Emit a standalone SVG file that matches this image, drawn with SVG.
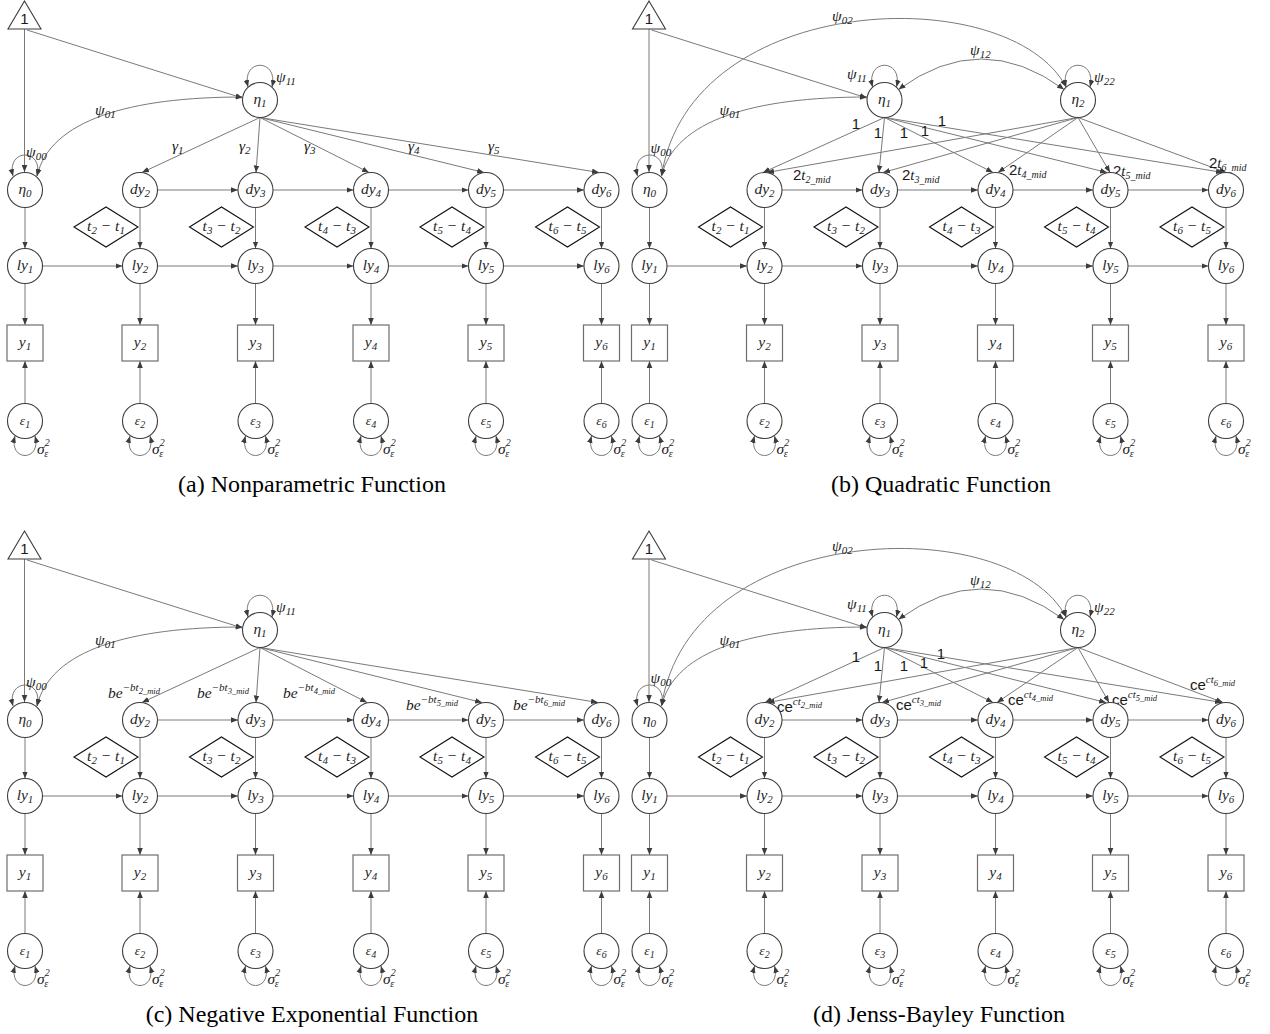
<svg xmlns="http://www.w3.org/2000/svg" width="1270" height="1034" viewBox="0 0 1270 1034">
<defs>
<marker id="ah" viewBox="0 0 10 10" refX="10" refY="5" markerWidth="7" markerHeight="7" orient="auto-start-reverse" markerUnits="userSpaceOnUse"><path d="M0,1 L10,5 L0,9 z" fill="#3c3c3c"/></marker>
</defs>
<style>
.ln{fill:none;stroke:#7a7a7a;stroke-width:1}
.a{marker-end:url(#ah)}
.b2{marker-start:url(#ah);marker-end:url(#ah)}
.nd{fill:#fff;stroke:#3c3c3c;stroke-width:1.1}
.bx{fill:#fff;stroke:#6e6e6e;stroke-width:1.2}
.dm{fill:#fff;stroke:#111;stroke-width:1.1}
.tr{fill:#fff;stroke:#3c3c3c;stroke-width:1.1}
.m{font-family:"Liberation Serif","DejaVu Serif",serif;font-style:italic;font-size:15.5px;fill:#262626;text-anchor:middle}
.ml{font-family:"Liberation Serif","DejaVu Serif",serif;font-style:italic;font-size:15.5px;fill:#1a1a1a;text-anchor:start}
.sb{font-size:11px}
.e{font-size:13.5px}
.x{font-size:10px}
.sp{font-size:11px}
.ss{font-size:8.5px}
.s{font-family:"Liberation Sans",Arial,sans-serif;font-size:15px;fill:#1a1a1a}
.it{font-family:"Liberation Serif","DejaVu Serif",serif;font-style:italic}
.cap{font-family:"Liberation Serif","Times New Roman",serif;font-size:24px;fill:#000;text-anchor:middle}
</style>
<rect width="1270" height="1034" fill="#fff"/>

<!-- ================= PANEL A ================= -->
<g id="panel-a">
<g id="a-connectors" class="ln">
<path class="a" d="M24.5,29V172"/>
<path class="a" d="M27,30L242.5,98"/>
<path class="a" d="M25,207.5V248.5"/>
<path class="b2" d="M13,176C6,148 44,148 37,176"/>
<path class="b2" d="M37,176C50,120 130,97 242.5,97"/>
<path class="b2" d="M248,87C241,58 279,58 272,87"/>
<path class="a" d="M260,117.5L142,172.5"/>
<path class="a" d="M260,117.5L256,172.5"/>
<path class="a" d="M260,117.5L369,172.5"/>
<path class="a" d="M260,117.5L484,172.5"/>
<path class="a" d="M260,117.5L599,172.5"/>
<path class="a" d="M157.5,190H238"/>
<path class="a" d="M273,190H353.5"/>
<path class="a" d="M388.5,190H468.5"/>
<path class="a" d="M503.5,190H584"/>
<path class="a" d="M42.5,266H122.5"/>
<path class="a" d="M157.5,266H238"/>
<path class="a" d="M273,266H353.5"/>
<path class="a" d="M388.5,266H468.5"/>
<path class="a" d="M503.5,266H584"/>
<path class="a" d="M140,207.5V248.5"/>
<path class="a" d="M255.5,207.5V248.5"/>
<path class="a" d="M371,207.5V248.5"/>
<path class="a" d="M486,207.5V248.5"/>
<path class="a" d="M601.5,207.5V248.5"/>
<path class="a" d="M25,283.5V325"/>
<path class="a" d="M140,283.5V325"/>
<path class="a" d="M255.5,283.5V325"/>
<path class="a" d="M371,283.5V325"/>
<path class="a" d="M486,283.5V325"/>
<path class="a" d="M601.5,283.5V325"/>
<path class="a" d="M25,403.5V361"/>
<path class="a" d="M140,403.5V361"/>
<path class="a" d="M255.5,403.5V361"/>
<path class="a" d="M371,403.5V361"/>
<path class="a" d="M486,403.5V361"/>
<path class="a" d="M601.5,403.5V361"/>
<path class="b2" d="M15,436C8,462 42,462 35,436"/>
<path class="b2" d="M130,436C123,462 157,462 150,436"/>
<path class="b2" d="M245.5,436C238.5,462 272.5,462 265.5,436"/>
<path class="b2" d="M361,436C354,462 388,462 381,436"/>
<path class="b2" d="M476,436C469,462 503,462 496,436"/>
<path class="b2" d="M591.5,436C584.5,462 618.5,462 611.5,436"/>
</g>
<g id="a-labels">
<text class="ml" x="26" y="157">ψ<tspan class="sb" dy="3">00</tspan></text>
<text class="ml" x="95" y="115">ψ<tspan class="sb" dy="3">01</tspan></text>
<text class="ml" x="276" y="82">ψ<tspan class="sb" dy="3">11</tspan></text>
<text class="ml" x="172" y="151">γ<tspan class="sb" dy="3">1</tspan></text>
<text class="ml" x="239" y="151">γ<tspan class="sb" dy="3">2</tspan></text>
<text class="ml" x="304" y="151">γ<tspan class="sb" dy="3">3</tspan></text>
<text class="ml" x="408" y="151">γ<tspan class="sb" dy="3">4</tspan></text>
<text class="ml" x="488" y="151">γ<tspan class="sb" dy="3">5</tspan></text>
<text class="ml" x="37" y="454">σ<tspan class="x" dy="-8">2</tspan><tspan class="x" dx="-5.5" dy="11">ε</tspan></text>
<text class="ml" x="152" y="454">σ<tspan class="x" dy="-8">2</tspan><tspan class="x" dx="-5.5" dy="11">ε</tspan></text>
<text class="ml" x="267.5" y="454">σ<tspan class="x" dy="-8">2</tspan><tspan class="x" dx="-5.5" dy="11">ε</tspan></text>
<text class="ml" x="383" y="454">σ<tspan class="x" dy="-8">2</tspan><tspan class="x" dx="-5.5" dy="11">ε</tspan></text>
<text class="ml" x="498" y="454">σ<tspan class="x" dy="-8">2</tspan><tspan class="x" dx="-5.5" dy="11">ε</tspan></text>
<text class="ml" x="613.5" y="454">σ<tspan class="x" dy="-8">2</tspan><tspan class="x" dx="-5.5" dy="11">ε</tspan></text>
</g>
<g id="a-one"><polygon class="tr" points="24.5,1 41,29 8,29"/><text class="s" x="24.5" y="24" text-anchor="middle" font-size="13">1</text></g>
<g id="a-eta0"><circle class="nd" cx="25" cy="190" r="17.5"/><text class="m" x="25" y="194">η<tspan class="sb" dy="3">0</tspan></text></g>
<g id="a-eta1"><circle class="nd" cx="260" cy="100" r="17.5"/><text class="m" x="260" y="104">η<tspan class="sb" dy="3">1</tspan></text></g>
<g id="a-dy2"><circle class="nd" cx="140" cy="190" r="17.5"/><text class="m" x="140" y="194">dy<tspan class="sb" dy="3">2</tspan></text></g>
<g id="a-dy3"><circle class="nd" cx="255.5" cy="190" r="17.5"/><text class="m" x="255.5" y="194">dy<tspan class="sb" dy="3">3</tspan></text></g>
<g id="a-dy4"><circle class="nd" cx="371" cy="190" r="17.5"/><text class="m" x="371" y="194">dy<tspan class="sb" dy="3">4</tspan></text></g>
<g id="a-dy5"><circle class="nd" cx="486" cy="190" r="17.5"/><text class="m" x="486" y="194">dy<tspan class="sb" dy="3">5</tspan></text></g>
<g id="a-dy6"><circle class="nd" cx="601.5" cy="190" r="17.5"/><text class="m" x="601.5" y="194">dy<tspan class="sb" dy="3">6</tspan></text></g>
<g id="a-dt2"><polygon class="dm" points="74,227 106,207 138,227 106,247"/><text class="m" x="106" y="231">t<tspan class="sb" dy="3">2</tspan><tspan dy="-3"> − t</tspan><tspan class="sb" dy="3">1</tspan></text></g>
<g id="a-dt3"><polygon class="dm" points="189.5,227 221.5,207 253.5,227 221.5,247"/><text class="m" x="221.5" y="231">t<tspan class="sb" dy="3">3</tspan><tspan dy="-3"> − t</tspan><tspan class="sb" dy="3">2</tspan></text></g>
<g id="a-dt4"><polygon class="dm" points="305,227 337,207 369,227 337,247"/><text class="m" x="337" y="231">t<tspan class="sb" dy="3">4</tspan><tspan dy="-3"> − t</tspan><tspan class="sb" dy="3">3</tspan></text></g>
<g id="a-dt5"><polygon class="dm" points="420,227 452,207 484,227 452,247"/><text class="m" x="452" y="231">t<tspan class="sb" dy="3">5</tspan><tspan dy="-3"> − t</tspan><tspan class="sb" dy="3">4</tspan></text></g>
<g id="a-dt6"><polygon class="dm" points="535.5,227 567.5,207 599.5,227 567.5,247"/><text class="m" x="567.5" y="231">t<tspan class="sb" dy="3">6</tspan><tspan dy="-3"> − t</tspan><tspan class="sb" dy="3">5</tspan></text></g>
<g id="a-ly1"><circle class="nd" cx="25" cy="266" r="17.5"/><text class="m" x="25" y="270">ly<tspan class="sb" dy="3">1</tspan></text></g>
<g id="a-ly2"><circle class="nd" cx="140" cy="266" r="17.5"/><text class="m" x="140" y="270">ly<tspan class="sb" dy="3">2</tspan></text></g>
<g id="a-ly3"><circle class="nd" cx="255.5" cy="266" r="17.5"/><text class="m" x="255.5" y="270">ly<tspan class="sb" dy="3">3</tspan></text></g>
<g id="a-ly4"><circle class="nd" cx="371" cy="266" r="17.5"/><text class="m" x="371" y="270">ly<tspan class="sb" dy="3">4</tspan></text></g>
<g id="a-ly5"><circle class="nd" cx="486" cy="266" r="17.5"/><text class="m" x="486" y="270">ly<tspan class="sb" dy="3">5</tspan></text></g>
<g id="a-ly6"><circle class="nd" cx="601.5" cy="266" r="17.5"/><text class="m" x="601.5" y="270">ly<tspan class="sb" dy="3">6</tspan></text></g>
<g id="a-y1"><rect class="bx" x="7" y="325" width="36" height="36"/><text class="m" x="25" y="347">y<tspan class="sb" dy="3">1</tspan></text></g>
<g id="a-y2"><rect class="bx" x="122" y="325" width="36" height="36"/><text class="m" x="140" y="347">y<tspan class="sb" dy="3">2</tspan></text></g>
<g id="a-y3"><rect class="bx" x="237.5" y="325" width="36" height="36"/><text class="m" x="255.5" y="347">y<tspan class="sb" dy="3">3</tspan></text></g>
<g id="a-y4"><rect class="bx" x="353" y="325" width="36" height="36"/><text class="m" x="371" y="347">y<tspan class="sb" dy="3">4</tspan></text></g>
<g id="a-y5"><rect class="bx" x="468" y="325" width="36" height="36"/><text class="m" x="486" y="347">y<tspan class="sb" dy="3">5</tspan></text></g>
<g id="a-y6"><rect class="bx" x="583.5" y="325" width="36" height="36"/><text class="m" x="601.5" y="347">y<tspan class="sb" dy="3">6</tspan></text></g>
<g id="a-e1"><circle class="nd" cx="25" cy="421" r="17.5"/><text class="m e" x="25" y="425">ε<tspan class="x" dy="3">1</tspan></text></g>
<g id="a-e2"><circle class="nd" cx="140" cy="421" r="17.5"/><text class="m e" x="140" y="425">ε<tspan class="x" dy="3">2</tspan></text></g>
<g id="a-e3"><circle class="nd" cx="255.5" cy="421" r="17.5"/><text class="m e" x="255.5" y="425">ε<tspan class="x" dy="3">3</tspan></text></g>
<g id="a-e4"><circle class="nd" cx="371" cy="421" r="17.5"/><text class="m e" x="371" y="425">ε<tspan class="x" dy="3">4</tspan></text></g>
<g id="a-e5"><circle class="nd" cx="486" cy="421" r="17.5"/><text class="m e" x="486" y="425">ε<tspan class="x" dy="3">5</tspan></text></g>
<g id="a-e6"><circle class="nd" cx="601.5" cy="421" r="17.5"/><text class="m e" x="601.5" y="425">ε<tspan class="x" dy="3">6</tspan></text></g>
</g>

<!-- ================= PANEL B ================= -->
<g id="panel-b" transform="translate(624.5,0)">
<g id="b-connectors" class="ln">
<path class="a" d="M24.5,29V172"/>
<path class="a" d="M27,30L242.5,98"/>
<path class="a" d="M25,207.5V248.5"/>
<path class="b2" d="M13,176C6,148 44,148 37,176"/>
<path class="b2" d="M37,176C50,120 130,97 242.5,97"/>
<path class="b2" d="M37,176C65.5,-10 385.5,-20 441.5,87"/>
<path class="b2" d="M274,89.5Q357,28.5 439.5,89.5"/>
<path class="b2" d="M248,87C241,58 279,58 272,87"/>
<path class="b2" d="M441.5,87C434.5,58 472.5,58 465.5,87"/>
<path class="a" d="M260,117.5L138.5,172.5"/>
<path class="a" d="M260,117.5L254.5,172.5"/>
<path class="a" d="M260,117.5L368.5,172.5"/>
<path class="a" d="M260,117.5L482.5,172.5"/>
<path class="a" d="M260,117.5L598.5,172.5"/>
<path class="a" d="M453.5,117.5L142.5,172.5"/>
<path class="a" d="M453.5,117.5L258.5,172.5"/>
<path class="a" d="M453.5,117.5L373.5,172.5"/>
<path class="a" d="M453.5,117.5L485.5,172.5"/>
<path class="a" d="M453.5,117.5L601.5,172.5"/>
<path class="a" d="M157.5,190H238"/>
<path class="a" d="M273,190H353.5"/>
<path class="a" d="M388.5,190H468.5"/>
<path class="a" d="M503.5,190H584"/>
<path class="a" d="M42.5,266H122.5"/>
<path class="a" d="M157.5,266H238"/>
<path class="a" d="M273,266H353.5"/>
<path class="a" d="M388.5,266H468.5"/>
<path class="a" d="M503.5,266H584"/>
<path class="a" d="M140,207.5V248.5"/>
<path class="a" d="M255.5,207.5V248.5"/>
<path class="a" d="M371,207.5V248.5"/>
<path class="a" d="M486,207.5V248.5"/>
<path class="a" d="M601.5,207.5V248.5"/>
<path class="a" d="M25,283.5V325"/>
<path class="a" d="M140,283.5V325"/>
<path class="a" d="M255.5,283.5V325"/>
<path class="a" d="M371,283.5V325"/>
<path class="a" d="M486,283.5V325"/>
<path class="a" d="M601.5,283.5V325"/>
<path class="a" d="M25,403.5V361"/>
<path class="a" d="M140,403.5V361"/>
<path class="a" d="M255.5,403.5V361"/>
<path class="a" d="M371,403.5V361"/>
<path class="a" d="M486,403.5V361"/>
<path class="a" d="M601.5,403.5V361"/>
<path class="b2" d="M15,436C8,462 42,462 35,436"/>
<path class="b2" d="M130,436C123,462 157,462 150,436"/>
<path class="b2" d="M245.5,436C238.5,462 272.5,462 265.5,436"/>
<path class="b2" d="M361,436C354,462 388,462 381,436"/>
<path class="b2" d="M476,436C469,462 503,462 496,436"/>
<path class="b2" d="M591.5,436C584.5,462 618.5,462 611.5,436"/>
</g>
<g id="b-labels">
<text class="ml" x="26" y="153">ψ<tspan class="sb" dy="3">00</tspan></text>
<text class="ml" x="95" y="115">ψ<tspan class="sb" dy="3">01</tspan></text>
<text class="ml" x="207.5" y="21">ψ<tspan class="sb" dy="3">02</tspan></text>
<text class="ml" x="222.5" y="79">ψ<tspan class="sb" dy="3">11</tspan></text>
<text class="ml" x="345.5" y="55">ψ<tspan class="sb" dy="3">12</tspan></text>
<text class="ml" x="469.5" y="82">ψ<tspan class="sb" dy="3">22</tspan></text>
<text class="s" x="231.5" y="129" text-anchor="middle">1</text>
<text class="s" x="253.5" y="138" text-anchor="middle">1</text>
<text class="s" x="279.5" y="138" text-anchor="middle">1</text>
<text class="s" x="300.5" y="136" text-anchor="middle">1</text>
<text class="s" x="317.5" y="126" text-anchor="middle">1</text>
<text class="s" x="168.5" y="180">2<tspan class="it">t</tspan><tspan class="it" font-size="10" dy="3">2_mid</tspan></text>
<text class="s" x="277.5" y="180">2<tspan class="it">t</tspan><tspan class="it" font-size="10" dy="3">3_mid</tspan></text>
<text class="s" x="384.5" y="175">2<tspan class="it">t</tspan><tspan class="it" font-size="10" dy="3">4_mid</tspan></text>
<text class="s" x="488.5" y="176">2<tspan class="it">t</tspan><tspan class="it" font-size="10" dy="3">5_mid</tspan></text>
<text class="s" x="584.5" y="168">2<tspan class="it">t</tspan><tspan class="it" font-size="10" dy="3">6_mid</tspan></text>
<text class="ml" x="37" y="454">σ<tspan class="x" dy="-8">2</tspan><tspan class="x" dx="-5.5" dy="11">ε</tspan></text>
<text class="ml" x="152" y="454">σ<tspan class="x" dy="-8">2</tspan><tspan class="x" dx="-5.5" dy="11">ε</tspan></text>
<text class="ml" x="267.5" y="454">σ<tspan class="x" dy="-8">2</tspan><tspan class="x" dx="-5.5" dy="11">ε</tspan></text>
<text class="ml" x="383" y="454">σ<tspan class="x" dy="-8">2</tspan><tspan class="x" dx="-5.5" dy="11">ε</tspan></text>
<text class="ml" x="498" y="454">σ<tspan class="x" dy="-8">2</tspan><tspan class="x" dx="-5.5" dy="11">ε</tspan></text>
<text class="ml" x="613.5" y="454">σ<tspan class="x" dy="-8">2</tspan><tspan class="x" dx="-5.5" dy="11">ε</tspan></text>
</g>
<g id="b-one"><polygon class="tr" points="24.5,1 41,29 8,29"/><text class="s" x="24.5" y="24" text-anchor="middle" font-size="13">1</text></g>
<g id="b-eta0"><circle class="nd" cx="25" cy="190" r="17.5"/><text class="m" x="25" y="194">η<tspan class="sb" dy="3">0</tspan></text></g>
<g id="b-eta1"><circle class="nd" cx="260" cy="100" r="17.5"/><text class="m" x="260" y="104">η<tspan class="sb" dy="3">1</tspan></text></g>
<g id="b-eta2"><circle class="nd" cx="453.5" cy="100" r="17.5"/><text class="m" x="453.5" y="104">η<tspan class="sb" dy="3">2</tspan></text></g>
<g id="b-dy2"><circle class="nd" cx="140" cy="190" r="17.5"/><text class="m" x="140" y="194">dy<tspan class="sb" dy="3">2</tspan></text></g>
<g id="b-dy3"><circle class="nd" cx="255.5" cy="190" r="17.5"/><text class="m" x="255.5" y="194">dy<tspan class="sb" dy="3">3</tspan></text></g>
<g id="b-dy4"><circle class="nd" cx="371" cy="190" r="17.5"/><text class="m" x="371" y="194">dy<tspan class="sb" dy="3">4</tspan></text></g>
<g id="b-dy5"><circle class="nd" cx="486" cy="190" r="17.5"/><text class="m" x="486" y="194">dy<tspan class="sb" dy="3">5</tspan></text></g>
<g id="b-dy6"><circle class="nd" cx="601.5" cy="190" r="17.5"/><text class="m" x="601.5" y="194">dy<tspan class="sb" dy="3">6</tspan></text></g>
<g id="b-dt2"><polygon class="dm" points="74,227 106,207 138,227 106,247"/><text class="m" x="106" y="231">t<tspan class="sb" dy="3">2</tspan><tspan dy="-3"> − t</tspan><tspan class="sb" dy="3">1</tspan></text></g>
<g id="b-dt3"><polygon class="dm" points="189.5,227 221.5,207 253.5,227 221.5,247"/><text class="m" x="221.5" y="231">t<tspan class="sb" dy="3">3</tspan><tspan dy="-3"> − t</tspan><tspan class="sb" dy="3">2</tspan></text></g>
<g id="b-dt4"><polygon class="dm" points="305,227 337,207 369,227 337,247"/><text class="m" x="337" y="231">t<tspan class="sb" dy="3">4</tspan><tspan dy="-3"> − t</tspan><tspan class="sb" dy="3">3</tspan></text></g>
<g id="b-dt5"><polygon class="dm" points="420,227 452,207 484,227 452,247"/><text class="m" x="452" y="231">t<tspan class="sb" dy="3">5</tspan><tspan dy="-3"> − t</tspan><tspan class="sb" dy="3">4</tspan></text></g>
<g id="b-dt6"><polygon class="dm" points="535.5,227 567.5,207 599.5,227 567.5,247"/><text class="m" x="567.5" y="231">t<tspan class="sb" dy="3">6</tspan><tspan dy="-3"> − t</tspan><tspan class="sb" dy="3">5</tspan></text></g>
<g id="b-ly1"><circle class="nd" cx="25" cy="266" r="17.5"/><text class="m" x="25" y="270">ly<tspan class="sb" dy="3">1</tspan></text></g>
<g id="b-ly2"><circle class="nd" cx="140" cy="266" r="17.5"/><text class="m" x="140" y="270">ly<tspan class="sb" dy="3">2</tspan></text></g>
<g id="b-ly3"><circle class="nd" cx="255.5" cy="266" r="17.5"/><text class="m" x="255.5" y="270">ly<tspan class="sb" dy="3">3</tspan></text></g>
<g id="b-ly4"><circle class="nd" cx="371" cy="266" r="17.5"/><text class="m" x="371" y="270">ly<tspan class="sb" dy="3">4</tspan></text></g>
<g id="b-ly5"><circle class="nd" cx="486" cy="266" r="17.5"/><text class="m" x="486" y="270">ly<tspan class="sb" dy="3">5</tspan></text></g>
<g id="b-ly6"><circle class="nd" cx="601.5" cy="266" r="17.5"/><text class="m" x="601.5" y="270">ly<tspan class="sb" dy="3">6</tspan></text></g>
<g id="b-y1"><rect class="bx" x="7" y="325" width="36" height="36"/><text class="m" x="25" y="347">y<tspan class="sb" dy="3">1</tspan></text></g>
<g id="b-y2"><rect class="bx" x="122" y="325" width="36" height="36"/><text class="m" x="140" y="347">y<tspan class="sb" dy="3">2</tspan></text></g>
<g id="b-y3"><rect class="bx" x="237.5" y="325" width="36" height="36"/><text class="m" x="255.5" y="347">y<tspan class="sb" dy="3">3</tspan></text></g>
<g id="b-y4"><rect class="bx" x="353" y="325" width="36" height="36"/><text class="m" x="371" y="347">y<tspan class="sb" dy="3">4</tspan></text></g>
<g id="b-y5"><rect class="bx" x="468" y="325" width="36" height="36"/><text class="m" x="486" y="347">y<tspan class="sb" dy="3">5</tspan></text></g>
<g id="b-y6"><rect class="bx" x="583.5" y="325" width="36" height="36"/><text class="m" x="601.5" y="347">y<tspan class="sb" dy="3">6</tspan></text></g>
<g id="b-e1"><circle class="nd" cx="25" cy="421" r="17.5"/><text class="m e" x="25" y="425">ε<tspan class="x" dy="3">1</tspan></text></g>
<g id="b-e2"><circle class="nd" cx="140" cy="421" r="17.5"/><text class="m e" x="140" y="425">ε<tspan class="x" dy="3">2</tspan></text></g>
<g id="b-e3"><circle class="nd" cx="255.5" cy="421" r="17.5"/><text class="m e" x="255.5" y="425">ε<tspan class="x" dy="3">3</tspan></text></g>
<g id="b-e4"><circle class="nd" cx="371" cy="421" r="17.5"/><text class="m e" x="371" y="425">ε<tspan class="x" dy="3">4</tspan></text></g>
<g id="b-e5"><circle class="nd" cx="486" cy="421" r="17.5"/><text class="m e" x="486" y="425">ε<tspan class="x" dy="3">5</tspan></text></g>
<g id="b-e6"><circle class="nd" cx="601.5" cy="421" r="17.5"/><text class="m e" x="601.5" y="425">ε<tspan class="x" dy="3">6</tspan></text></g>
</g>

<!-- ================= PANEL C ================= -->
<g id="panel-c" transform="translate(0,530)">
<g id="c-connectors" class="ln">
<path class="a" d="M24.5,29V172"/>
<path class="a" d="M27,30L242.5,98"/>
<path class="a" d="M25,207.5V248.5"/>
<path class="b2" d="M13,176C6,148 44,148 37,176"/>
<path class="b2" d="M37,176C50,120 130,97 242.5,97"/>
<path class="b2" d="M248,87C241,58 279,58 272,87"/>
<path class="a" d="M260,117.5L142,172.5"/>
<path class="a" d="M260,117.5L256,172.5"/>
<path class="a" d="M260,117.5L367,172.5"/>
<path class="a" d="M260,117.5L482,172.5"/>
<path class="a" d="M260,117.5L598,172.5"/>
<path class="a" d="M157.5,190H238"/>
<path class="a" d="M273,190H353.5"/>
<path class="a" d="M388.5,190H468.5"/>
<path class="a" d="M503.5,190H584"/>
<path class="a" d="M42.5,266H122.5"/>
<path class="a" d="M157.5,266H238"/>
<path class="a" d="M273,266H353.5"/>
<path class="a" d="M388.5,266H468.5"/>
<path class="a" d="M503.5,266H584"/>
<path class="a" d="M140,207.5V248.5"/>
<path class="a" d="M255.5,207.5V248.5"/>
<path class="a" d="M371,207.5V248.5"/>
<path class="a" d="M486,207.5V248.5"/>
<path class="a" d="M601.5,207.5V248.5"/>
<path class="a" d="M25,283.5V325"/>
<path class="a" d="M140,283.5V325"/>
<path class="a" d="M255.5,283.5V325"/>
<path class="a" d="M371,283.5V325"/>
<path class="a" d="M486,283.5V325"/>
<path class="a" d="M601.5,283.5V325"/>
<path class="a" d="M25,403.5V361"/>
<path class="a" d="M140,403.5V361"/>
<path class="a" d="M255.5,403.5V361"/>
<path class="a" d="M371,403.5V361"/>
<path class="a" d="M486,403.5V361"/>
<path class="a" d="M601.5,403.5V361"/>
<path class="b2" d="M15,436C8,462 42,462 35,436"/>
<path class="b2" d="M130,436C123,462 157,462 150,436"/>
<path class="b2" d="M245.5,436C238.5,462 272.5,462 265.5,436"/>
<path class="b2" d="M361,436C354,462 388,462 381,436"/>
<path class="b2" d="M476,436C469,462 503,462 496,436"/>
<path class="b2" d="M591.5,436C584.5,462 618.5,462 611.5,436"/>
</g>
<g id="c-labels">
<text class="ml" x="26" y="157">ψ<tspan class="sb" dy="3">00</tspan></text>
<text class="ml" x="95" y="115">ψ<tspan class="sb" dy="3">01</tspan></text>
<text class="ml" x="276" y="82">ψ<tspan class="sb" dy="3">11</tspan></text>
<text class="ml" x="108" y="168">be<tspan class="sp" dy="-7">−bt</tspan><tspan class="ss" dy="2.5">2_mid</tspan></text>
<text class="ml" x="197" y="168">be<tspan class="sp" dy="-7">−bt</tspan><tspan class="ss" dy="2.5">3_mid</tspan></text>
<text class="ml" x="283" y="168">be<tspan class="sp" dy="-7">−bt</tspan><tspan class="ss" dy="2.5">4_mid</tspan></text>
<text class="ml" x="406" y="180">be<tspan class="sp" dy="-7">−bt</tspan><tspan class="ss" dy="2.5">5_mid</tspan></text>
<text class="ml" x="513" y="180">be<tspan class="sp" dy="-7">−bt</tspan><tspan class="ss" dy="2.5">6_mid</tspan></text>
<text class="ml" x="37" y="454">σ<tspan class="x" dy="-8">2</tspan><tspan class="x" dx="-5.5" dy="11">ε</tspan></text>
<text class="ml" x="152" y="454">σ<tspan class="x" dy="-8">2</tspan><tspan class="x" dx="-5.5" dy="11">ε</tspan></text>
<text class="ml" x="267.5" y="454">σ<tspan class="x" dy="-8">2</tspan><tspan class="x" dx="-5.5" dy="11">ε</tspan></text>
<text class="ml" x="383" y="454">σ<tspan class="x" dy="-8">2</tspan><tspan class="x" dx="-5.5" dy="11">ε</tspan></text>
<text class="ml" x="498" y="454">σ<tspan class="x" dy="-8">2</tspan><tspan class="x" dx="-5.5" dy="11">ε</tspan></text>
<text class="ml" x="613.5" y="454">σ<tspan class="x" dy="-8">2</tspan><tspan class="x" dx="-5.5" dy="11">ε</tspan></text>
</g>
<g id="c-one"><polygon class="tr" points="24.5,1 41,29 8,29"/><text class="s" x="24.5" y="24" text-anchor="middle" font-size="13">1</text></g>
<g id="c-eta0"><circle class="nd" cx="25" cy="190" r="17.5"/><text class="m" x="25" y="194">η<tspan class="sb" dy="3">0</tspan></text></g>
<g id="c-eta1"><circle class="nd" cx="260" cy="100" r="17.5"/><text class="m" x="260" y="104">η<tspan class="sb" dy="3">1</tspan></text></g>
<g id="c-dy2"><circle class="nd" cx="140" cy="190" r="17.5"/><text class="m" x="140" y="194">dy<tspan class="sb" dy="3">2</tspan></text></g>
<g id="c-dy3"><circle class="nd" cx="255.5" cy="190" r="17.5"/><text class="m" x="255.5" y="194">dy<tspan class="sb" dy="3">3</tspan></text></g>
<g id="c-dy4"><circle class="nd" cx="371" cy="190" r="17.5"/><text class="m" x="371" y="194">dy<tspan class="sb" dy="3">4</tspan></text></g>
<g id="c-dy5"><circle class="nd" cx="486" cy="190" r="17.5"/><text class="m" x="486" y="194">dy<tspan class="sb" dy="3">5</tspan></text></g>
<g id="c-dy6"><circle class="nd" cx="601.5" cy="190" r="17.5"/><text class="m" x="601.5" y="194">dy<tspan class="sb" dy="3">6</tspan></text></g>
<g id="c-dt2"><polygon class="dm" points="74,227 106,207 138,227 106,247"/><text class="m" x="106" y="231">t<tspan class="sb" dy="3">2</tspan><tspan dy="-3"> − t</tspan><tspan class="sb" dy="3">1</tspan></text></g>
<g id="c-dt3"><polygon class="dm" points="189.5,227 221.5,207 253.5,227 221.5,247"/><text class="m" x="221.5" y="231">t<tspan class="sb" dy="3">3</tspan><tspan dy="-3"> − t</tspan><tspan class="sb" dy="3">2</tspan></text></g>
<g id="c-dt4"><polygon class="dm" points="305,227 337,207 369,227 337,247"/><text class="m" x="337" y="231">t<tspan class="sb" dy="3">4</tspan><tspan dy="-3"> − t</tspan><tspan class="sb" dy="3">3</tspan></text></g>
<g id="c-dt5"><polygon class="dm" points="420,227 452,207 484,227 452,247"/><text class="m" x="452" y="231">t<tspan class="sb" dy="3">5</tspan><tspan dy="-3"> − t</tspan><tspan class="sb" dy="3">4</tspan></text></g>
<g id="c-dt6"><polygon class="dm" points="535.5,227 567.5,207 599.5,227 567.5,247"/><text class="m" x="567.5" y="231">t<tspan class="sb" dy="3">6</tspan><tspan dy="-3"> − t</tspan><tspan class="sb" dy="3">5</tspan></text></g>
<g id="c-ly1"><circle class="nd" cx="25" cy="266" r="17.5"/><text class="m" x="25" y="270">ly<tspan class="sb" dy="3">1</tspan></text></g>
<g id="c-ly2"><circle class="nd" cx="140" cy="266" r="17.5"/><text class="m" x="140" y="270">ly<tspan class="sb" dy="3">2</tspan></text></g>
<g id="c-ly3"><circle class="nd" cx="255.5" cy="266" r="17.5"/><text class="m" x="255.5" y="270">ly<tspan class="sb" dy="3">3</tspan></text></g>
<g id="c-ly4"><circle class="nd" cx="371" cy="266" r="17.5"/><text class="m" x="371" y="270">ly<tspan class="sb" dy="3">4</tspan></text></g>
<g id="c-ly5"><circle class="nd" cx="486" cy="266" r="17.5"/><text class="m" x="486" y="270">ly<tspan class="sb" dy="3">5</tspan></text></g>
<g id="c-ly6"><circle class="nd" cx="601.5" cy="266" r="17.5"/><text class="m" x="601.5" y="270">ly<tspan class="sb" dy="3">6</tspan></text></g>
<g id="c-y1"><rect class="bx" x="7" y="325" width="36" height="36"/><text class="m" x="25" y="347">y<tspan class="sb" dy="3">1</tspan></text></g>
<g id="c-y2"><rect class="bx" x="122" y="325" width="36" height="36"/><text class="m" x="140" y="347">y<tspan class="sb" dy="3">2</tspan></text></g>
<g id="c-y3"><rect class="bx" x="237.5" y="325" width="36" height="36"/><text class="m" x="255.5" y="347">y<tspan class="sb" dy="3">3</tspan></text></g>
<g id="c-y4"><rect class="bx" x="353" y="325" width="36" height="36"/><text class="m" x="371" y="347">y<tspan class="sb" dy="3">4</tspan></text></g>
<g id="c-y5"><rect class="bx" x="468" y="325" width="36" height="36"/><text class="m" x="486" y="347">y<tspan class="sb" dy="3">5</tspan></text></g>
<g id="c-y6"><rect class="bx" x="583.5" y="325" width="36" height="36"/><text class="m" x="601.5" y="347">y<tspan class="sb" dy="3">6</tspan></text></g>
<g id="c-e1"><circle class="nd" cx="25" cy="421" r="17.5"/><text class="m e" x="25" y="425">ε<tspan class="x" dy="3">1</tspan></text></g>
<g id="c-e2"><circle class="nd" cx="140" cy="421" r="17.5"/><text class="m e" x="140" y="425">ε<tspan class="x" dy="3">2</tspan></text></g>
<g id="c-e3"><circle class="nd" cx="255.5" cy="421" r="17.5"/><text class="m e" x="255.5" y="425">ε<tspan class="x" dy="3">3</tspan></text></g>
<g id="c-e4"><circle class="nd" cx="371" cy="421" r="17.5"/><text class="m e" x="371" y="425">ε<tspan class="x" dy="3">4</tspan></text></g>
<g id="c-e5"><circle class="nd" cx="486" cy="421" r="17.5"/><text class="m e" x="486" y="425">ε<tspan class="x" dy="3">5</tspan></text></g>
<g id="c-e6"><circle class="nd" cx="601.5" cy="421" r="17.5"/><text class="m e" x="601.5" y="425">ε<tspan class="x" dy="3">6</tspan></text></g>
</g>

<!-- ================= PANEL D ================= -->
<g id="panel-d" transform="translate(624.5,530)">
<g id="d-connectors" class="ln">
<path class="a" d="M24.5,29V172"/>
<path class="a" d="M27,30L242.5,98"/>
<path class="a" d="M25,207.5V248.5"/>
<path class="b2" d="M13,176C6,148 44,148 37,176"/>
<path class="b2" d="M37,176C50,120 130,97 242.5,97"/>
<path class="b2" d="M37,176C65.5,-10 385.5,-20 441.5,87"/>
<path class="b2" d="M274,89.5Q357,28.5 439.5,89.5"/>
<path class="b2" d="M248,87C241,58 279,58 272,87"/>
<path class="b2" d="M441.5,87C434.5,58 472.5,58 465.5,87"/>
<path class="a" d="M260,117.5L140.5,172.5"/>
<path class="a" d="M260,117.5L254.5,172.5"/>
<path class="a" d="M260,117.5L368.5,172.5"/>
<path class="a" d="M260,117.5L481.5,172.5"/>
<path class="a" d="M260,117.5L597.5,172.5"/>
<path class="a" d="M453.5,117.5L143,172.5"/>
<path class="a" d="M453.5,117.5L257.5,172.5"/>
<path class="a" d="M453.5,117.5L372.5,172.5"/>
<path class="a" d="M453.5,117.5L484.5,172.5"/>
<path class="a" d="M453.5,117.5L598.5,172.5"/>
<path class="a" d="M157.5,190H238"/>
<path class="a" d="M273,190H353.5"/>
<path class="a" d="M388.5,190H468.5"/>
<path class="a" d="M503.5,190H584"/>
<path class="a" d="M42.5,266H122.5"/>
<path class="a" d="M157.5,266H238"/>
<path class="a" d="M273,266H353.5"/>
<path class="a" d="M388.5,266H468.5"/>
<path class="a" d="M503.5,266H584"/>
<path class="a" d="M140,207.5V248.5"/>
<path class="a" d="M255.5,207.5V248.5"/>
<path class="a" d="M371,207.5V248.5"/>
<path class="a" d="M486,207.5V248.5"/>
<path class="a" d="M601.5,207.5V248.5"/>
<path class="a" d="M25,283.5V325"/>
<path class="a" d="M140,283.5V325"/>
<path class="a" d="M255.5,283.5V325"/>
<path class="a" d="M371,283.5V325"/>
<path class="a" d="M486,283.5V325"/>
<path class="a" d="M601.5,283.5V325"/>
<path class="a" d="M25,403.5V361"/>
<path class="a" d="M140,403.5V361"/>
<path class="a" d="M255.5,403.5V361"/>
<path class="a" d="M371,403.5V361"/>
<path class="a" d="M486,403.5V361"/>
<path class="a" d="M601.5,403.5V361"/>
<path class="b2" d="M15,436C8,462 42,462 35,436"/>
<path class="b2" d="M130,436C123,462 157,462 150,436"/>
<path class="b2" d="M245.5,436C238.5,462 272.5,462 265.5,436"/>
<path class="b2" d="M361,436C354,462 388,462 381,436"/>
<path class="b2" d="M476,436C469,462 503,462 496,436"/>
<path class="b2" d="M591.5,436C584.5,462 618.5,462 611.5,436"/>
</g>
<g id="d-labels">
<text class="ml" x="26" y="153">ψ<tspan class="sb" dy="3">00</tspan></text>
<text class="ml" x="95" y="115">ψ<tspan class="sb" dy="3">01</tspan></text>
<text class="ml" x="207.5" y="21">ψ<tspan class="sb" dy="3">02</tspan></text>
<text class="ml" x="222.5" y="79">ψ<tspan class="sb" dy="3">11</tspan></text>
<text class="ml" x="345.5" y="55">ψ<tspan class="sb" dy="3">12</tspan></text>
<text class="ml" x="469.5" y="82">ψ<tspan class="sb" dy="3">22</tspan></text>
<text class="s" x="231.5" y="132" text-anchor="middle">1</text>
<text class="s" x="253.5" y="141" text-anchor="middle">1</text>
<text class="s" x="279.5" y="141" text-anchor="middle">1</text>
<text class="s" x="299.5" y="138" text-anchor="middle">1</text>
<text class="s" x="316.5" y="129" text-anchor="middle">1</text>
<text class="s" x="152.5" y="182">ce<tspan class="it" font-size="11" dy="-7">ct</tspan><tspan class="it" font-size="8.5" dy="2.5">2_mid</tspan></text>
<text class="s" x="271.5" y="180">ce<tspan class="it" font-size="11" dy="-7">ct</tspan><tspan class="it" font-size="8.5" dy="2.5">3_mid</tspan></text>
<text class="s" x="383.5" y="175">ce<tspan class="it" font-size="11" dy="-7">ct</tspan><tspan class="it" font-size="8.5" dy="2.5">4_mid</tspan></text>
<text class="s" x="487.5" y="175">ce<tspan class="it" font-size="11" dy="-7">ct</tspan><tspan class="it" font-size="8.5" dy="2.5">5_mid</tspan></text>
<text class="s" x="565.5" y="160">ce<tspan class="it" font-size="11" dy="-7">ct</tspan><tspan class="it" font-size="8.5" dy="2.5">6_mid</tspan></text>
<text class="ml" x="37" y="454">σ<tspan class="x" dy="-8">2</tspan><tspan class="x" dx="-5.5" dy="11">ε</tspan></text>
<text class="ml" x="152" y="454">σ<tspan class="x" dy="-8">2</tspan><tspan class="x" dx="-5.5" dy="11">ε</tspan></text>
<text class="ml" x="267.5" y="454">σ<tspan class="x" dy="-8">2</tspan><tspan class="x" dx="-5.5" dy="11">ε</tspan></text>
<text class="ml" x="383" y="454">σ<tspan class="x" dy="-8">2</tspan><tspan class="x" dx="-5.5" dy="11">ε</tspan></text>
<text class="ml" x="498" y="454">σ<tspan class="x" dy="-8">2</tspan><tspan class="x" dx="-5.5" dy="11">ε</tspan></text>
<text class="ml" x="613.5" y="454">σ<tspan class="x" dy="-8">2</tspan><tspan class="x" dx="-5.5" dy="11">ε</tspan></text>
</g>
<g id="d-one"><polygon class="tr" points="24.5,1 41,29 8,29"/><text class="s" x="24.5" y="24" text-anchor="middle" font-size="13">1</text></g>
<g id="d-eta0"><circle class="nd" cx="25" cy="190" r="17.5"/><text class="m" x="25" y="194">η<tspan class="sb" dy="3">0</tspan></text></g>
<g id="d-eta1"><circle class="nd" cx="260" cy="100" r="17.5"/><text class="m" x="260" y="104">η<tspan class="sb" dy="3">1</tspan></text></g>
<g id="d-eta2"><circle class="nd" cx="453.5" cy="100" r="17.5"/><text class="m" x="453.5" y="104">η<tspan class="sb" dy="3">2</tspan></text></g>
<g id="d-dy2"><circle class="nd" cx="140" cy="190" r="17.5"/><text class="m" x="140" y="194">dy<tspan class="sb" dy="3">2</tspan></text></g>
<g id="d-dy3"><circle class="nd" cx="255.5" cy="190" r="17.5"/><text class="m" x="255.5" y="194">dy<tspan class="sb" dy="3">3</tspan></text></g>
<g id="d-dy4"><circle class="nd" cx="371" cy="190" r="17.5"/><text class="m" x="371" y="194">dy<tspan class="sb" dy="3">4</tspan></text></g>
<g id="d-dy5"><circle class="nd" cx="486" cy="190" r="17.5"/><text class="m" x="486" y="194">dy<tspan class="sb" dy="3">5</tspan></text></g>
<g id="d-dy6"><circle class="nd" cx="601.5" cy="190" r="17.5"/><text class="m" x="601.5" y="194">dy<tspan class="sb" dy="3">6</tspan></text></g>
<g id="d-dt2"><polygon class="dm" points="74,227 106,207 138,227 106,247"/><text class="m" x="106" y="231">t<tspan class="sb" dy="3">2</tspan><tspan dy="-3"> − t</tspan><tspan class="sb" dy="3">1</tspan></text></g>
<g id="d-dt3"><polygon class="dm" points="189.5,227 221.5,207 253.5,227 221.5,247"/><text class="m" x="221.5" y="231">t<tspan class="sb" dy="3">3</tspan><tspan dy="-3"> − t</tspan><tspan class="sb" dy="3">2</tspan></text></g>
<g id="d-dt4"><polygon class="dm" points="305,227 337,207 369,227 337,247"/><text class="m" x="337" y="231">t<tspan class="sb" dy="3">4</tspan><tspan dy="-3"> − t</tspan><tspan class="sb" dy="3">3</tspan></text></g>
<g id="d-dt5"><polygon class="dm" points="420,227 452,207 484,227 452,247"/><text class="m" x="452" y="231">t<tspan class="sb" dy="3">5</tspan><tspan dy="-3"> − t</tspan><tspan class="sb" dy="3">4</tspan></text></g>
<g id="d-dt6"><polygon class="dm" points="535.5,227 567.5,207 599.5,227 567.5,247"/><text class="m" x="567.5" y="231">t<tspan class="sb" dy="3">6</tspan><tspan dy="-3"> − t</tspan><tspan class="sb" dy="3">5</tspan></text></g>
<g id="d-ly1"><circle class="nd" cx="25" cy="266" r="17.5"/><text class="m" x="25" y="270">ly<tspan class="sb" dy="3">1</tspan></text></g>
<g id="d-ly2"><circle class="nd" cx="140" cy="266" r="17.5"/><text class="m" x="140" y="270">ly<tspan class="sb" dy="3">2</tspan></text></g>
<g id="d-ly3"><circle class="nd" cx="255.5" cy="266" r="17.5"/><text class="m" x="255.5" y="270">ly<tspan class="sb" dy="3">3</tspan></text></g>
<g id="d-ly4"><circle class="nd" cx="371" cy="266" r="17.5"/><text class="m" x="371" y="270">ly<tspan class="sb" dy="3">4</tspan></text></g>
<g id="d-ly5"><circle class="nd" cx="486" cy="266" r="17.5"/><text class="m" x="486" y="270">ly<tspan class="sb" dy="3">5</tspan></text></g>
<g id="d-ly6"><circle class="nd" cx="601.5" cy="266" r="17.5"/><text class="m" x="601.5" y="270">ly<tspan class="sb" dy="3">6</tspan></text></g>
<g id="d-y1"><rect class="bx" x="7" y="325" width="36" height="36"/><text class="m" x="25" y="347">y<tspan class="sb" dy="3">1</tspan></text></g>
<g id="d-y2"><rect class="bx" x="122" y="325" width="36" height="36"/><text class="m" x="140" y="347">y<tspan class="sb" dy="3">2</tspan></text></g>
<g id="d-y3"><rect class="bx" x="237.5" y="325" width="36" height="36"/><text class="m" x="255.5" y="347">y<tspan class="sb" dy="3">3</tspan></text></g>
<g id="d-y4"><rect class="bx" x="353" y="325" width="36" height="36"/><text class="m" x="371" y="347">y<tspan class="sb" dy="3">4</tspan></text></g>
<g id="d-y5"><rect class="bx" x="468" y="325" width="36" height="36"/><text class="m" x="486" y="347">y<tspan class="sb" dy="3">5</tspan></text></g>
<g id="d-y6"><rect class="bx" x="583.5" y="325" width="36" height="36"/><text class="m" x="601.5" y="347">y<tspan class="sb" dy="3">6</tspan></text></g>
<g id="d-e1"><circle class="nd" cx="25" cy="421" r="17.5"/><text class="m e" x="25" y="425">ε<tspan class="x" dy="3">1</tspan></text></g>
<g id="d-e2"><circle class="nd" cx="140" cy="421" r="17.5"/><text class="m e" x="140" y="425">ε<tspan class="x" dy="3">2</tspan></text></g>
<g id="d-e3"><circle class="nd" cx="255.5" cy="421" r="17.5"/><text class="m e" x="255.5" y="425">ε<tspan class="x" dy="3">3</tspan></text></g>
<g id="d-e4"><circle class="nd" cx="371" cy="421" r="17.5"/><text class="m e" x="371" y="425">ε<tspan class="x" dy="3">4</tspan></text></g>
<g id="d-e5"><circle class="nd" cx="486" cy="421" r="17.5"/><text class="m e" x="486" y="425">ε<tspan class="x" dy="3">5</tspan></text></g>
<g id="d-e6"><circle class="nd" cx="601.5" cy="421" r="17.5"/><text class="m e" x="601.5" y="425">ε<tspan class="x" dy="3">6</tspan></text></g>
</g>

<g id="captions">
<text class="cap" x="312" y="492">(a) Nonparametric Function</text>
<text class="cap" x="941" y="492">(b) Quadratic Function</text>
<text class="cap" x="312" y="1022">(c) Negative Exponential Function</text>
<text class="cap" x="939" y="1022">(d) Jenss-Bayley Function</text>
</g>
</svg>
